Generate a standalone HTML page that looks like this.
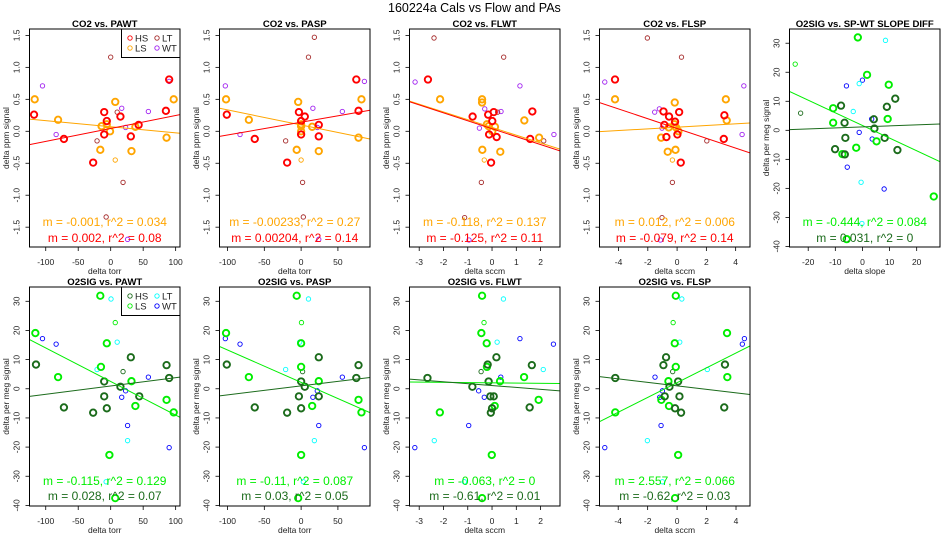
<!DOCTYPE html>
<html><head><meta charset="utf-8"><style>
html,body{margin:0;padding:0;background:#fff;}
svg{display:block;font-family:"Liberation Sans",Arial,sans-serif;}
</style></head>
<body>
<svg id="fig" width="950" height="550" viewBox="0 0 950 550">
<text x="388" y="12" font-size="12.5" fill="#000">160224a   Cals vs Flow and PAs</text>
</svg>
<script>
// ---------- DATA ----------
const pawtCO2_HS=[[-118,0.26],[-72,-0.12],[-27,-0.49],[-10,0.30],[-6,0.16],[-10,-0.05],[15,0.23],[31,-0.08],[43,0.10],[85,0.32],[90,0.81]];
const pawtCO2_LS=[[-117,0.50],[-81,0.18],[-16,-0.29],[-14,0.08],[-6,0.11],[-1,0.0],[7,0.46],[32,-0.31],[38,0.07],[86,-0.10],[97,0.50]];
const pawtCO2_LSthin=[[7,-0.45]];
const pawtCO2_LT=[[0,1.16],[-21,-0.15],[10,0.30],[19,-0.80],[-7,-1.34]];
const pawtCO2_WT=[[-105,0.71],[-84,-0.05],[17,0.36],[23,0.06],[58,0.31],[90,0.78],[26,-1.69]];
const pawtCO2_lines=[[0.071,-0.00095],[0.044,0.00203]];

const paspCO2_HS=[[-101,0.26],[-63,-0.12],[-19,-0.49],[-3,0.30],[0,0.16],[0,-0.05],[5,0.23],[24,-0.08],[24,0.10],[78,0.32],[75,0.81]];
const paspCO2_LS=[[-102,0.50],[-71,0.18],[-6,-0.29],[0,0.08],[0,0.11],[0,0.0],[-4,0.46],[24,-0.31],[15,0.07],[78,-0.10],[82,0.50]];
const paspCO2_LSthin=[[0,-0.45]];
const paspCO2_LT=[[10,1.16],[18,1.47],[-21,-0.15],[2,-0.80],[3,-1.34]];
const paspCO2_WT=[[-103,0.71],[-83,-0.05],[16,0.36],[22,0.06],[56,0.31],[86,0.78],[24,-1.69]];
const paspCO2_lines=[[0.099,-0.00235],[0.142,0.0020]];

const flwtCO2_HS=[[-2.64,0.81],[-0.80,0.23],[-0.16,0.26],[0.07,0.30],[0.01,0.16],[-0.12,-0.05],[0.19,-0.09],[-0.04,-0.49],[1.66,0.31],[1.57,-0.12]];
const flwtCO2_LS=[[-2.14,0.50],[-0.41,0.50],[-0.41,0.45],[-0.21,0.11],[-0.14,0.08],[0.01,0],[0.12,0.07],[-0.40,-0.29],[0.34,-0.32],[1.33,0.17],[1.94,-0.10]];
const flwtCO2_LSthin=[[-0.32,-0.45]];
const flwtCO2_LT=[[-2.39,1.46],[0.48,1.16],[0.23,0.30],[2.13,-0.15],[-0.44,-0.80],[-1.13,-1.35]];
const flwtCO2_WT=[[-3.17,0.77],[1.15,0.71],[-0.30,0.35],[0.37,0.31],[-0.52,0.05],[2.55,-0.05],[-0.95,-1.70]];
const flwtCO2_lines=[[0.06,-0.121],[0.04,-0.124]];

const flspCO2_HS=[[-4.24,0.81],[-0.93,0.31],[-0.55,0.23],[-0.87,0.10],[-0.73,-0.09],[-0.14,0.15],[0.02,-0.05],[0.14,0.30],[0.25,-0.49],[3.23,0.25],[3.19,-0.12]];
const flspCO2_LS=[[-4.24,0.50],[-0.16,0.45],[3.33,0.50],[3.39,0.17],[-0.57,0.06],[-0.18,0.11],[-0.07,0.06],[0.09,0],[-1.09,-0.10],[-0.64,-0.32],[-0.11,-0.29]];
const flspCO2_LSthin=[[-0.32,-0.45]];
const flspCO2_LT=[[-2.03,1.46],[0.30,1.16],[2.03,-0.15],[-0.32,-0.80],[-1.03,-1.35]];
const flspCO2_WT=[[-4.94,0.77],[4.56,0.71],[-1.21,0.35],[-1.53,0.30],[-1.03,0.05],[4.44,-0.05],[-1.14,-1.70]];
const flspCO2_lines=[[0.064,0.013],[0.043,-0.0767]];

const slopeO2_LS=[[-1.7,32.0],[1.7,19.1],[9.7,15.7],[-10.8,7.6],[-10.8,2.6],[9.3,3.9],[5.2,-3.8],[-2.3,-6.0],[-7.4,-8.2],[26.3,-22.8],[-5.8,-37.5]];
const slopeO2_HS=[[-7.9,8.5],[-6.6,2.6],[-6.3,-2.6],[-10.1,-6.5],[-6.5,-8.3],[4.2,3.8],[4.4,0.6],[9.0,8.1],[12.1,10.9],[8.2,-2.6],[12.9,-6.8]];
const slopeO2_LSthin=[[-24.8,22.8]];
const slopeO2_HSthin=[[-22.8,5.9]];
const slopeO2_LT=[[8.5,31.0],[-1.2,16.1],[-3.4,6.5],[-0.5,-17.9],[-0.2,-32.1]];
const slopeO2_WT=[[0,17.3],[-5.9,15.3],[3.4,3.9],[-1.2,-0.7],[3.6,-3.0],[-5.6,-12.7],[8.0,-20.2]];
const slopeO2_lines=[[1.67,-0.436],[1.17,0.035]];

const pawtO2_LS=[[-16,31.9],[-116,19.1],[-6,15.6],[-15,7.5],[-81,4.0],[32,2.6],[38,-5.9],[86,-3.8],[97,-8.1],[-2,-22.7],[7,-37.5]];
const pawtO2_HS=[[-115,8.3],[31,10.8],[86,8.1],[90,3.7],[-10,2.5],[15,0.7],[-10,-2.6],[44,-2.6],[-72,-6.4],[-6,-6.7],[-27,-8.2]];
const pawtO2_LSthin=[[7,22.7]];
const pawtO2_HSthin=[[19,5.9]];
const pawtO2_LT=[[0.5,30.8],[10,16.0],[-21,6.6],[26,-17.8],[-7,-31.9]];
const pawtO2_WT=[[-105,17.2],[-84,15.3],[58,4.0],[23,-0.7],[17,-2.9],[26,-12.6],[90,-20.2]];
const pawtO2_lines=[[2.5,-0.115],[0.96,0.0285]];

const paspO2_LS=[[-6,31.9],[-102,19.1],[0,15.6],[0,7.5],[-71,4.0],[24,2.6],[15,-5.9],[78,-3.8],[82,-8.1],[0,-22.7],[-4,-37.5]];
const paspO2_HS=[[-101,8.3],[24,10.8],[78,8.1],[75,3.7],[0,2.5],[5,0.7],[-3,-2.6],[24,-2.6],[-63,-6.4],[0,-6.7],[-19,-8.2]];
const paspO2_LSthin=[[0.5,22.7]];
const paspO2_HSthin=[[2,5.9]];
const paspO2_LT=[[10,30.8],[-2,16.0],[-21,6.6],[18,-17.8],[3,-31.9]];
const paspO2_WT=[[-103,17.2],[-83,15.3],[56,4.0],[22,-0.7],[16,-2.9],[24,-12.6],[86,-20.2]];
const paspO2_lines=[[2.2,-0.111],[1.0,0.0308]];

const flwtO2_LS=[[-0.41,31.9],[-0.44,19.1],[-0.22,15.6],[-0.21,7.5],[1.32,4.0],[0.33,2.6],[0.11,-5.9],[1.92,-3.8],[-2.15,-8.1],[-0.01,-22.7],[-0.41,-37.5]];
const flwtO2_HS=[[-2.66,3.7],[0.18,10.8],[1.64,8.1],[-0.18,8.3],[-0.14,2.5],[-0.81,0.7],[-0.07,-2.6],[0.07,-2.6],[1.55,-6.4],[0,-6.7],[-0.05,-8.2]];
const flwtO2_LSthin=[[-0.33,22.7]];
const flwtO2_HSthin=[[-0.45,5.9]];
const flwtO2_LT=[[0.47,30.8],[0.21,16.0],[2.11,6.6],[-2.38,-17.8],[-1.14,-31.9]];
const flwtO2_WT=[[1.15,17.2],[2.53,15.3],[0.36,4.0],[-0.55,-0.7],[-0.32,-2.9],[-0.96,-12.6],[-3.18,-20.2]];
const flwtO2_lines=[[2.03,-0.08],[1.1,-0.646]];

const flspO2_LS=[[-0.09,31.9],[3.39,19.1],[-0.16,15.6],[-0.09,7.5],[3.41,4.0],[-0.59,2.6],[-0.55,-5.9],[-1.07,-3.8],[-4.2,-8.1],[0.07,-22.7],[-0.14,-37.5]];
const flspO2_HS=[[-4.2,3.7],[-0.75,10.8],[-0.93,8.1],[3.25,8.3],[0.07,2.5],[-0.52,0.7],[-0.84,-2.6],[0.16,-2.6],[3.2,-6.4],[-0.14,-6.7],[0.27,-8.2]];
const flspO2_LSthin=[[-0.27,22.7]];
const flspO2_HSthin=[[-0.3,5.9]];
const flspO2_LT=[[0.32,30.8],[0.18,16.0],[2.05,6.6],[-2.02,-17.8],[-1.0,-31.9]];
const flspO2_WT=[[4.57,17.2],[4.43,15.3],[-1.5,4.0],[-1.0,-0.7],[-1.18,-2.9],[-1.09,-12.6],[-4.91,-20.2]];
const flspO2_lines=[[2.1,2.54],[1.0,-0.6]];

const co2YTicks=[-1.5,-1,-0.5,0,0.5,1,1.5];
const co2YTickLabels=["-1.5","-1.0","-0.5","0.0","0.5","1.0","1.5"];
const o2YTicks=[-40,-30,-20,-10,0,10,20,30];
const torrTicks1=[-100,-50,0,50,100];
const torrTicks2=[-100,-50,0,50];
const flwtTicks=[-3,-2,-1,0,1,2];
const flspTicks=[-4,-2,0,2,4];
const slopeTicks=[-20,-10,0,10,20];

const annoText=[
 ["m = -0.001, r^2 = 0.034","m = 0.002, r^2 = 0.08"],
 ["m = -0.00233, r^2 = 0.27","m = 0.00204, r^2 = 0.14"],
 ["m = -0.118, r^2 = 0.137","m = -0.125, r^2 = 0.11"],
 ["m = 0.012, r^2 = 0.006","m = -0.079, r^2 = 0.14"],
 ["m = -0.444, r^2 = 0.084","m = 0.031, r^2 = 0"],
 ["m = -0.115, r^2 = 0.129","m = 0.028, r^2 = 0.07"],
 ["m = -0.11, r^2 = 0.087","m = 0.03, r^2 = 0.05"],
 ["m = -0.063, r^2 = 0","m = -0.61, r^2 = 0.01"],
 ["m = 2.557, r^2 = 0.066","m = -0.62, r^2 = 0.03"]
];

// ---------- DRAWING ----------
const NS="http://www.w3.org/2000/svg";
const fig=document.getElementById('fig');
const C={red:"#ff0000",orange:"#ffa500",brown:"#a52a2a",purple:"#a020f0",lg:"#00ee00",dg:"#1b6b1b",cyan:"#00ffff",blue:"#0000ff"};
function mk(tag,attrs,parent){const e=document.createElementNS(NS,tag);for(const k in attrs)e.setAttribute(k,attrs[k]);(parent||fig).appendChild(e);return e;}

const co2Y=[-1.81,1.6], o2Y=[-40.2,34.9];
const panels=[
 {col:0,row:0,title:"CO2 vs. PAWT",xd:[-125,106.7],xt:torrTicks1,xlab:"delta torr",o2:false,legend:true,
  series:[[pawtCO2_WT,C.purple,0],[pawtCO2_LT,C.brown,0],[pawtCO2_LSthin,C.orange,0],[pawtCO2_LS,C.orange,1],[pawtCO2_HS,C.red,1]],lines:pawtCO2_lines},
 {col:1,row:0,title:"CO2 vs. PASP",xd:[-110.9,93.6],xt:torrTicks2,xlab:"delta torr",o2:false,
  series:[[paspCO2_WT,C.purple,0],[paspCO2_LT,C.brown,0],[paspCO2_LSthin,C.orange,0],[paspCO2_LS,C.orange,1],[paspCO2_HS,C.red,1]],lines:paspCO2_lines},
 {col:2,row:0,title:"CO2 vs. FLWT",xd:[-3.40,2.80],xt:flwtTicks,xlab:"delta sccm",o2:false,
  series:[[flwtCO2_WT,C.purple,0],[flwtCO2_LT,C.brown,0],[flwtCO2_LSthin,C.orange,0],[flwtCO2_LS,C.orange,1],[flwtCO2_HS,C.red,1]],lines:flwtCO2_lines},
 {col:3,row:0,title:"CO2 vs. FLSP",xd:[-5.30,4.98],xt:flspTicks,xlab:"delta sccm",o2:false,
  series:[[flspCO2_WT,C.purple,0],[flspCO2_LT,C.brown,0],[flspCO2_LSthin,C.orange,0],[flspCO2_LS,C.orange,1],[flspCO2_HS,C.red,1]],lines:flspCO2_lines},
 {col:4,row:0,title:"O2SIG vs. SP-WT SLOPE DIFF",xd:[-26.9,28.6],xt:slopeTicks,xlab:"delta slope",o2:true,
  series:[[slopeO2_WT,C.blue,0],[slopeO2_LT,C.cyan,0],[slopeO2_LSthin,C.lg,0],[slopeO2_HSthin,C.dg,0],[slopeO2_LS,C.lg,1],[slopeO2_HS,C.dg,1]],lines:slopeO2_lines},
 {col:0,row:1,title:"O2SIG vs. PAWT",xd:[-125,106.7],xt:torrTicks1,xlab:"delta torr",o2:true,legend:true,
  series:[[pawtO2_WT,C.blue,0],[pawtO2_LT,C.cyan,0],[pawtO2_LSthin,C.lg,0],[pawtO2_HSthin,C.dg,0],[pawtO2_LS,C.lg,1],[pawtO2_HS,C.dg,1]],lines:pawtO2_lines},
 {col:1,row:1,title:"O2SIG vs. PASP",xd:[-110.9,93.6],xt:torrTicks2,xlab:"delta torr",o2:true,
  series:[[paspO2_WT,C.blue,0],[paspO2_LT,C.cyan,0],[paspO2_LSthin,C.lg,0],[paspO2_HSthin,C.dg,0],[paspO2_LS,C.lg,1],[paspO2_HS,C.dg,1]],lines:paspO2_lines},
 {col:2,row:1,title:"O2SIG vs. FLWT",xd:[-3.40,2.80],xt:flwtTicks,xlab:"delta sccm",o2:true,
  series:[[flwtO2_WT,C.blue,0],[flwtO2_LT,C.cyan,0],[flwtO2_LSthin,C.lg,0],[flwtO2_HSthin,C.dg,0],[flwtO2_LS,C.lg,1],[flwtO2_HS,C.dg,1]],lines:flwtO2_lines},
 {col:3,row:1,title:"O2SIG vs. FLSP",xd:[-5.27,4.95],xt:flspTicks,xlab:"delta sccm",o2:true,
  series:[[flspO2_WT,C.blue,0],[flspO2_LT,C.cyan,0],[flspO2_LSthin,C.lg,0],[flspO2_HSthin,C.dg,0],[flspO2_LS,C.lg,1],[flspO2_HS,C.dg,1]],lines:flspO2_lines}
];

panels.forEach((p,pi)=>{
  const L=p.col*190+29.5, R=p.col*190+180;
  const T=p.row===0?29:287, B=p.row===0?247:506;
  const yd=p.o2?o2Y:co2Y;
  const sx=v=>L+(v-p.xd[0])/(p.xd[1]-p.xd[0])*(R-L);
  const sy=v=>B-(v-yd[0])/(yd[1]-yd[0])*(B-T);
  const g=mk('g',{});
  
  
  const clipId='clip'+pi;
  const cp=mk('clipPath',{id:clipId},g);
  mk('rect',{x:L,y:T,width:R-L,height:B-T},cp);
  const tt=mk('text',{x:(L+R)/2,y:p.row===0?27:285,'text-anchor':'middle','font-size':9.6,'font-weight':'bold'},g);
  tt.textContent=p.title;
  
  
  const yt=p.o2?o2YTicks:co2YTicks;
  yt.forEach((v,i)=>{
    const y=sy(v);
    mk('line',{x1:L,x2:L-4,y1:y,y2:y,stroke:'#000','stroke-width':0.8},g);
    const lab=p.o2?String(v):co2YTickLabels[i];
    const t=mk('text',{x:0,y:0,transform:`translate(${L-10},${y}) rotate(-90)`,'text-anchor':'middle','font-size':8.5,fill:'#222'},g);
    t.textContent=lab;
    
    
  });
  p.xt.forEach(v=>{
    const x=sx(v);
    mk('line',{x1:x,x2:x,y1:B,y2:B+4,stroke:'#000','stroke-width':0.8},g);
    const t=mk('text',{x:x,y:B+18,'text-anchor':'middle','font-size':8.5,fill:'#222'},g);
    t.textContent=String(v);
    
    
  });
  const xl=mk('text',{x:(L+R)/2,y:B+27,'text-anchor':'middle','font-size':8.5,fill:'#222'},g);
  xl.textContent=p.xlab;
  
  
  const ylx=p.col*190+9;
  const yl=mk('text',{x:0,y:0,transform:`translate(${ylx},${(T+B)/2}) rotate(-90)`,'text-anchor':'middle','font-size':8.5,fill:'#222'},g);
  yl.textContent=p.o2?"delta per meg signal":"delta ppm signal";
  
  
  const pg=mk('g',{'clip-path':`url(#${clipId})`},g);
  p.series.forEach(s=>{
    const [pts,col,thick]=s;
    pts.forEach(d=>{
      const c=mk('circle',{cx:sx(d[0]),cy:sy(d[1]),r:thick?3.2:2.2,fill:'none',stroke:col,'stroke-width':thick?1.9:0.9},pg);
      
      
    });
  });
  const lineCols=p.o2?[C.lg,C.dg]:[C.orange,C.red];
  p.lines.forEach((ln,i)=>{
    const [a,b]=ln;
    const l=mk('line',{x1:sx(p.xd[0]),y1:sy(a+b*p.xd[0]),x2:sx(p.xd[1]),y2:sy(a+b*p.xd[1]),stroke:lineCols[i],'stroke-width':1},pg);
    
    
  });
  const ay=p.row===0?[226,242]:[485,500];
  annoText[pi].forEach((s,i)=>{
    const t=mk('text',{x:(L+R)/2,y:ay[i],'text-anchor':'middle','font-size':12,fill:lineCols[i]},g);
    t.textContent=s;
    
    
  });
  mk('rect',{x:L,y:T,width:R-L,height:B-T,fill:'none',stroke:'#000','stroke-width':1},g);
  if(p.legend){
    const lg=mk('g',{},g);
    
    
    const lx=L+92, ly=T;
    mk('rect',{x:lx,y:ly,width:R-lx,height:28.5,fill:'#fff',stroke:'#000','stroke-width':1},lg);
    const ents=p.o2?[["HS",C.dg],["LS",C.lg],["LT",C.cyan],["WT",C.blue]]:[["HS",C.red],["LS",C.orange],["LT",C.brown],["WT",C.purple]];
    ents.forEach((e,i)=>{
      const cx=lx+8.5+(i>1?27:0), cy=ly+9+(i%2)*10;
      const eg=mk('g',{},lg);
      
      
      mk('circle',{cx:cx,cy:cy,r:2.2,fill:'none',stroke:e[1],'stroke-width':0.9},eg);
      const t=mk('text',{x:cx+5,y:cy+3.5,'font-size':9.5,fill:'#222'},eg);
      t.textContent=e[0];
    });
  }
});
</script>
</body></html>
